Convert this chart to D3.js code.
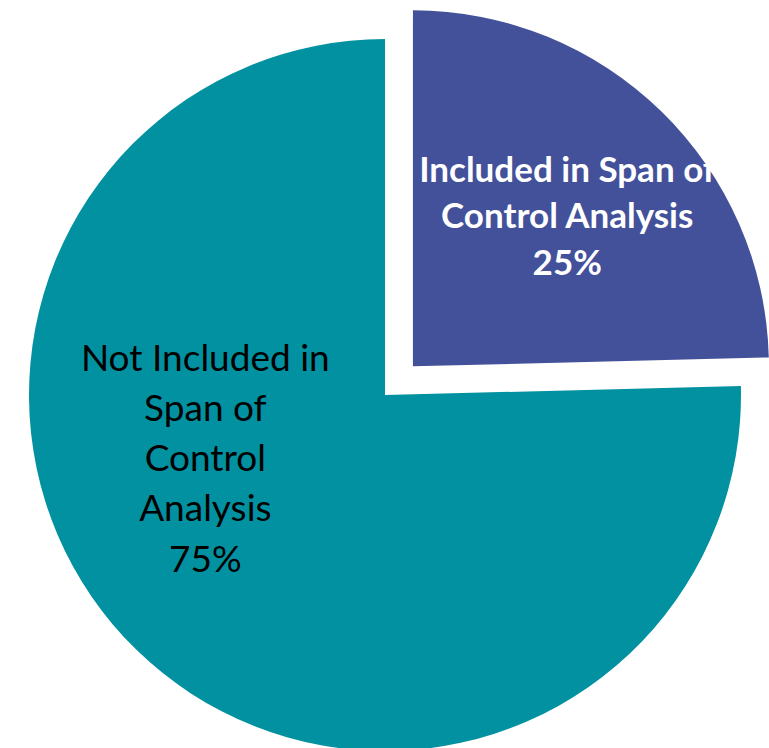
<!DOCTYPE html>
<html>
<head>
<meta charset="utf-8">
<script src="https://cdn.jsdelivr.net/npm/d3@7"></script>
<style>
  html, body { margin: 0; padding: 0; background: #ffffff; }
  svg { display: block; }
</style>
</head>
<body>
<svg id="chart" width="769" height="748"></svg>
<script>
// ---- data ----
const categories = ["Included in Span of Control Analysis", "Not Included in Span of Control Analysis"];
const values = [24.6, 75.4];
const percentLabels = ["25%", "75%"];
const labelLines = [
  ["Included in Span of", "Control Analysis"],
  ["Not Included in", "Span of", "Control", "Analysis"]
];
const colors = ["#43519A", "#0291A0"];

// ---- layout ----
const svg = d3.select("#chart");
const cx = 385, cy = 395, radius = 356;
const explode = [40, 0];

const data = categories.map((c, i) => ({ name: c, value: values[i], pct: percentLabels[i], lines: labelLines[i], color: colors[i], explode: explode[i] }));

const pie = d3.pie().value(d => d.value).sort(null).startAngle(0).endAngle(2 * Math.PI);
const arc = d3.arc().innerRadius(0).outerRadius(radius);
const arcs = pie(data);

const g = svg.append("g").attr("transform", `translate(${cx},${cy})`);

const slice = g.selectAll("g.slice").data(arcs).join("g")
  .attr("class", "slice")
  .attr("transform", d => {
    const mid = (d.startAngle + d.endAngle) / 2;
    const e = d.data.explode;
    return `translate(${e * Math.sin(mid)},${-e * Math.cos(mid)})`;
  });

slice.append("path")
  .attr("d", arc)
  .attr("fill", d => d.data.color);

// label placement (angle offset in radians, radius fraction, font settings)
const labelStyle = [
  { da: 0.026, rf: 0.605, size: 35, weight: "bold", fill: "#ffffff", lh: 46.5 },
  { da: 0.46, rf: 0.535, size: 37, weight: "normal", fill: "#000000", lh: 50.2 }
];

slice.each(function(d, i) {
  const st = labelStyle[i];
  const mid = (d.startAngle + d.endAngle) / 2 + st.da;
  const r = radius * st.rf;
  const x = r * Math.sin(mid), y = -r * Math.cos(mid);
  const lines = d.data.lines.concat([d.data.pct]);
  const t = d3.select(this).append("text")
    .attr("text-anchor", "middle")
    .attr("font-family", "Lato, 'Open Sans', sans-serif")
    .attr("font-size", st.size)
    .attr("font-weight", st.weight)
    .attr("fill", st.fill);
  const n = lines.length;
  lines.forEach((ln, k) => {
    t.append("tspan")
      .attr("x", x)
      .attr("y", y + (k - (n - 1) / 2) * st.lh)
      .attr("dy", "0.35em")
      .text(ln);
  });
});
</script>
</body>
</html>
